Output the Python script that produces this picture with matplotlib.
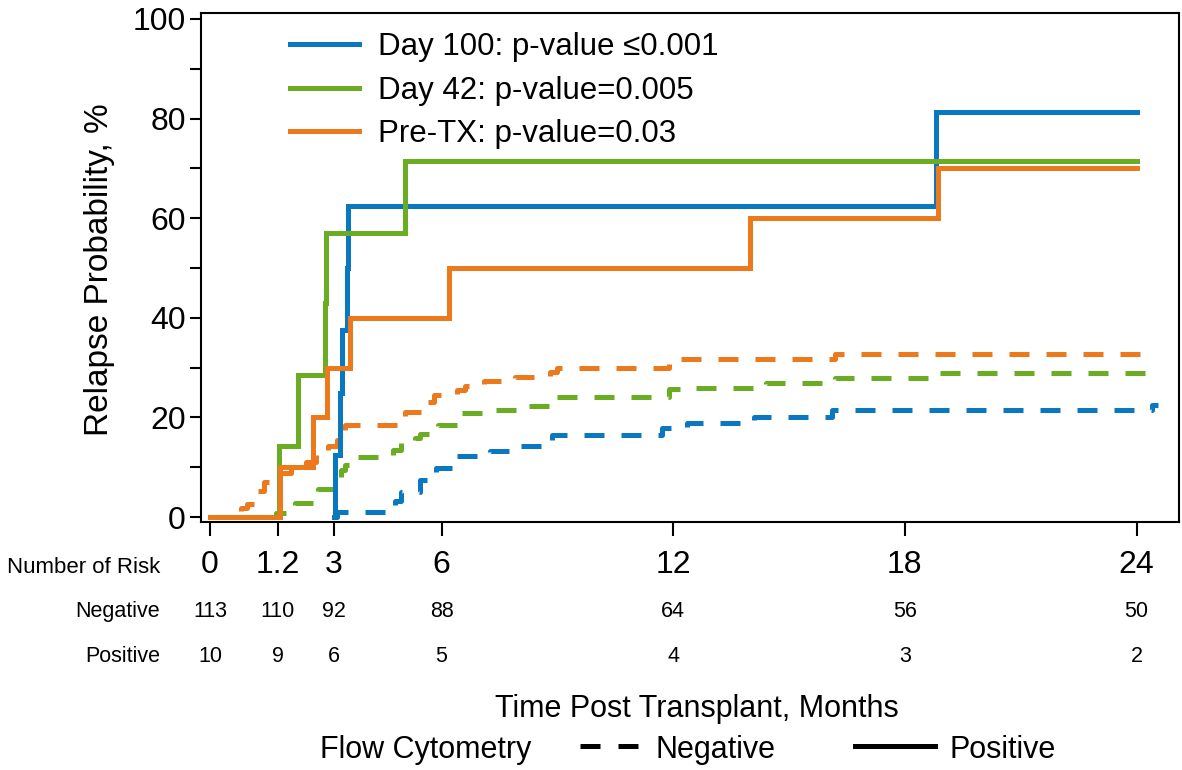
import matplotlib
matplotlib.use("Agg")
import matplotlib.pyplot as plt
from matplotlib.lines import Line2D
from matplotlib.transforms import blended_transform_factory

plt.rcParams['font.family'] = ['Liberation Sans', 'DejaVu Sans']

# ---------------- data ----------------
# x positions of the landmark ticks (months) and their labels
tick_pos = [0, 1.76, 3.21, 6, 12, 18, 24]
tick_labels = ['0', '1.2', '3', '6', '12', '18', '24']
risk_negative = [113, 110, 92, 88, 64, 56, 50]
risk_positive = [10, 9, 6, 5, 4, 3, 2]

# Day 100 landmark
d100_pos_t = [3.21, 3.24, 3.38, 3.41, 3.55, 3.58, 18.8, 24.0]
d100_pos_v = [0, 12.5, 25.0, 37.5, 50.0, 62.5, 81.25, 81.25]
d100_neg_t = [3.2, 3.3, 4.8, 4.95, 5.45, 5.85, 6.35, 7.25, 8.05, 8.85, 11.7, 12.35, 14.1, 16.1, 24.2, 24.4, 24.55]
d100_neg_v = [0, 1.1, 3.3, 5.0, 7.4, 9.8, 12.2, 13.2, 14.2, 16.4, 17.8, 18.8, 20.0, 21.4, 21.4, 22.4, 22.4]

# Day 42 landmark
d42_pos_t = [1.76, 1.78, 2.29, 2.98, 3.02, 5.05, 24.0]
d42_pos_v = [0, 14.3, 28.6, 42.9, 57.1, 71.4, 71.4]
d42_neg_t = [1.55, 1.7, 2.2, 2.8, 3.3, 3.4, 3.5, 3.65, 4.75, 4.95, 5.3, 5.45, 5.9, 6.5, 7.3, 8.2, 8.9,
             11.9, 12.6, 14.4, 16.2, 18.9, 24.4]
d42_neg_v = [0, 0.9, 2.8, 5.6, 7.5, 9.5, 10.5, 12.0, 13.5, 14.8, 15.8, 16.6, 18.4, 20.8, 21.4, 22.2, 24.0,
             25.8, 26.0, 27.0, 28.0, 29.0, 29.0]

# Pre-transplant
pre_pos_t = [0, 1.81, 2.67, 3.03, 3.63, 6.2, 14.0, 18.87, 24.0]
pre_pos_v = [0, 10, 20, 30, 40, 50, 60, 70, 70]
pre_neg_t = [0, 0.8, 0.95, 1.25, 1.4, 1.8, 2.1, 2.5, 2.75, 3.05, 3.3, 3.5, 4.95, 5.05, 5.6, 5.8, 6.4, 6.6,
             7.1, 7.9, 8.8, 9.0, 11.9, 16.2, 24.4]
pre_neg_v = [0, 1.8, 2.7, 5.3, 7.1, 8.9, 9.8, 11.0, 12.4, 14.2, 15.5, 18.4, 19.5, 21.0, 23.0, 24.4, 25.5, 26.3,
             27.4, 28.2, 29.2, 30.0, 31.8, 32.8, 32.8]

labels = ['Day 100: p-value \u22640.001', 'Day 42: p-value=0.005', 'Pre-TX: p-value=0.03']

BLUE = '#0A78C0'
GREEN = '#6AAD22'
ORANGE = '#EC7A1C'

# ---------------- figure ----------------
W, H = 1182, 770
fig = plt.figure(figsize=(W / 100, H / 100), dpi=100)
L, R, T, B = 201, 1179, 13, 522
ax = fig.add_axes([L / W, 1 - B / H, (R - L) / W, (B - T) / H])

lw = 3.6
dash = (4.0, 3.4)
for t, v, c in [(d100_neg_t, d100_neg_v, BLUE), (d42_neg_t, d42_neg_v, GREEN), (pre_neg_t, pre_neg_v, ORANGE)]:
    ax.step(t, v, where='post', color=c, lw=lw, dashes=dash, dash_capstyle='butt', solid_joinstyle='miter')
handles = []
for t, v, c, lab in [(d100_pos_t, d100_pos_v, BLUE, labels[0]), (d42_pos_t, d42_pos_v, GREEN, labels[1]),
                     (pre_pos_t, pre_pos_v, ORANGE, labels[2])]:
    ln, = ax.step(t, v, where='post', color=c, lw=lw, solid_joinstyle='miter', label=lab)
    handles.append(ln)

ax.set_xlim(-0.23, 25.1)
ax.set_ylim(-1.0, 101.2)

for s in ax.spines.values():
    s.set_linewidth(1.5)

ax.set_yticks([0, 20, 40, 60, 80, 100])
ax.set_yticks([10, 30, 50, 70, 90], minor=True)
ax.tick_params(axis='y', which='both', direction='out', length=8, width=1.5, labelsize=23, pad=3)
ax.set_xticks(tick_pos)
ax.set_xticklabels(tick_labels)
ax.tick_params(axis='x', direction='out', length=10, width=1.5, labelsize=23, pad=10)

leg = ax.legend(handles=handles, loc='upper left', bbox_to_anchor=(0.091, 0.962), frameon=False,
                fontsize=22.5, handlelength=2.2, handletextpad=0.62, labelspacing=0.43,
                borderaxespad=0, borderpad=0)

fig.text(100 / W, 1 - 270 / H, 'Relapse Probability, %', rotation=90, ha='center', va='center', fontsize=24)

# number at risk table
trans = blended_transform_factory(ax.transData, fig.transFigure)
fig.text(160 / W, 1 - 573 / H, 'Number of Risk', ha='right', va='baseline', fontsize=16)
fig.text(160 / W, 1 - 617 / H, 'Negative', ha='right', va='baseline', fontsize=15.5)
fig.text(160 / W, 1 - 662 / H, 'Positive', ha='right', va='baseline', fontsize=15.5)
for x, n, p in zip(tick_pos, risk_negative, risk_positive):
    ax.text(x, 1 - 617 / H, str(n), transform=trans, ha='center', va='baseline', fontsize=15.5, clip_on=False)
    ax.text(x, 1 - 662 / H, str(p), transform=trans, ha='center', va='baseline', fontsize=15.5, clip_on=False)

fig.text(697 / W, 1 - 717 / H, 'Time Post Transplant, Months', ha='center', va='baseline', fontsize=22)

# bottom legend for line style
fig.text(320 / W, 1 - 758 / H, 'Flow Cytometry', ha='left', va='baseline', fontsize=22)
yl = 1 - 746 / H
fig.add_artist(Line2D([580 / W, 640 / W], [yl, yl], color='black', lw=lw, dashes=(4.0, 3.6),
                      dash_capstyle='butt', transform=fig.transFigure))
fig.text(656 / W, 1 - 758 / H, 'Negative', ha='left', va='baseline', fontsize=22)
fig.add_artist(Line2D([855 / W, 935 / W], [yl, yl], color='black', lw=lw, transform=fig.transFigure))
fig.text(950 / W, 1 - 758 / H, 'Positive', ha='left', va='baseline', fontsize=22)

fig.savefig('out.png', dpi=100)
